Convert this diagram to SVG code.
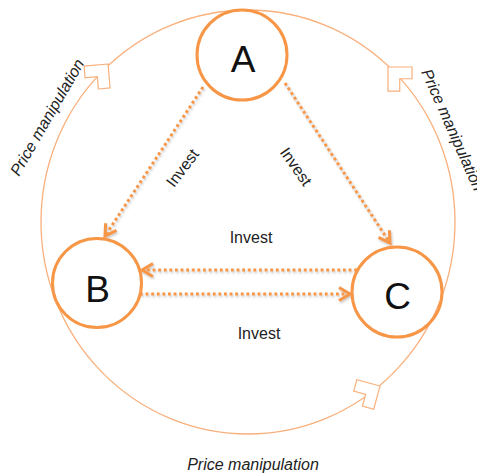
<svg xmlns="http://www.w3.org/2000/svg" width="477" height="474" viewBox="0 0 477 474">
  <style>
    .ring { fill: none; stroke: #F9B07C; stroke-width: 1.3; }
    .chev { fill: #ffffff; stroke: #F9B07C; stroke-width: 1.2; stroke-linejoin: miter; }
    .node { fill: none; stroke: #F79646; stroke-width: 3; }
    .letter { font-family: "Liberation Sans", Arial, sans-serif; font-size: 37px; fill: #111111; text-anchor: middle; }
    .flow { fill: none; stroke: #F79646; stroke-width: 3; stroke-dasharray: 2.8 2.8; marker-end: url(#vhead); }
    .lbl { font-family: "Liberation Sans", Arial, sans-serif; font-size: 16px; fill: #222222; text-anchor: middle; }
    .pm { font-family: "Liberation Sans", Arial, sans-serif; font-size: 16px; font-style: italic; fill: #222222; }
  </style>
  <defs>
    <marker id="vhead" viewBox="-14 -9 16 18" refX="0" refY="0" markerWidth="16" markerHeight="18" markerUnits="userSpaceOnUse" orient="auto" overflow="visible">
      <path d="M-11,-6.5 L0,0 L-11,6.5" fill="none" stroke="#F79646" stroke-width="3"/>
    </marker>
    <filter id="shade" x="-10%" y="-10%" width="120%" height="130%">
      <feDropShadow dx="1" dy="1.6" stdDeviation="1" flood-color="#555555" flood-opacity="0.35"/>
    </filter>
    <polygon id="chevron" points="0,0 -17,-17 -25.3,-8.7 -16.6,0 -25.3,8.7 -17,17"/>
  </defs>

  <!-- outer cycle with open arrowheads -->
  <g id="cycle">
    <ellipse class="ring" cx="248" cy="222" rx="207" ry="212"/>
    <use href="#chevron" class="chev" transform="translate(108,64) rotate(-50)"/>
    <use href="#chevron" class="chev" transform="translate(388,67) rotate(-135)"/>
    <use href="#chevron" class="chev" transform="translate(380,386) rotate(-30)"/>
  </g>

  <!-- investment flows -->
  <g id="connectors" filter="url(#shade)">
    <line class="flow" x1="203" y1="87" x2="105" y2="236"/>
    <line class="flow" x1="285" y1="83" x2="390" y2="243"/>
    <line class="flow" x1="357" y1="270" x2="142" y2="270"/>
    <line class="flow" x1="140" y1="294" x2="350" y2="294"/>
  </g>

  <g id="node-a">
    <circle class="node" cx="242" cy="55" r="45"/>
    <text class="letter" x="243" y="72">A</text>
  </g>
  <g id="node-b">
    <circle class="node" cx="97" cy="283" r="44.5"/>
    <text class="letter" x="97.5" y="302">B</text>
  </g>
  <g id="node-c">
    <circle class="node" cx="397" cy="292" r="45"/>
    <text class="letter" x="397.5" y="309">C</text>
  </g>

  <g id="labels">
    <text class="lbl" transform="translate(182.5,168) rotate(-53)" y="5.5">Invest</text>
    <text class="lbl" transform="translate(296,166.5) rotate(55)" y="5.5">Invest</text>
    <text class="lbl" x="251" y="243">Invest</text>
    <text class="lbl" x="259" y="339">Invest</text>
    <text class="pm" transform="translate(19,177) rotate(-60)">Price manipulation</text>
    <text class="pm" transform="translate(421,72) rotate(66)">Price manipulation</text>
    <text class="pm" x="253" y="470" text-anchor="middle">Price manipulation</text>
  </g>
</svg>
